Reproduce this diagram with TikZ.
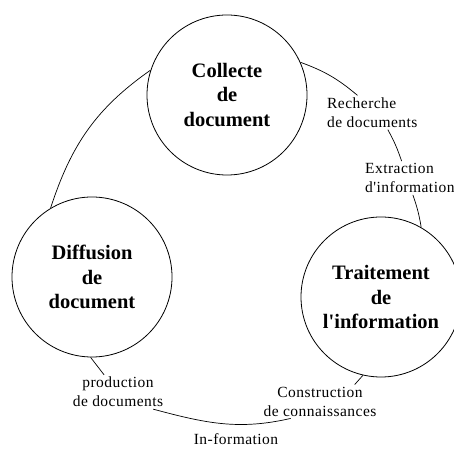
\documentclass[tikz,border=0pt]{standalone}
\usepackage{fontspec}
\setmainfont{Liberation Serif}[Ligatures=TeXOff]
\newfontfamily\labfont{Liberation Serif}[Ligatures=TeXOff,LetterSpace=3]
\begin{document}
\begin{tikzpicture}[x=1pt,y=1pt,
  stage/.style={circle,draw,line width=0.8pt,minimum size=160pt,inner sep=0pt,
    align=center,font=\fontsize{20.5}{24.5}\selectfont\bfseries},
  lab/.style={inner sep=2pt,font=\labfont\fontsize{15.5}{19}\selectfont},
  link/.style={line width=0.7pt}]
\useasboundingbox (0,0) rectangle (454,449);
\node[stage] (collecte) at (227,354) {Collecte\\de\\document};
\node[stage] (diffusion) at (92,172) {Diffusion\\de\\document};
\node[stage] (traitement) at (381,152) {Traitement\\de\\l'information};
\node[lab,align=left,anchor=west] (rech) at (325,336.5) {Recherche\\de documents};
\node[lab,align=left,anchor=west] (extr) at (363,271) {Extraction\\d'information};
\node[lab,align=center] (prod) at (118,57) {production\\de documents};
\node[lab,align=center] (constr) at (320,47.5) {Construction\\de connaissances};
\node[lab] (inform) at (236,9.5) {In-formation};
\draw[link] (collecte.162) to[out=215,in=72] (diffusion.121);
\draw[link] (collecte.24) to[bend left=10] (rech.131);
\draw[link] (rech.-48) to[bend left=5] (extr.116);
\draw[link] (extr.-80) to[bend left=5] (traitement.60);
\draw[link] (traitement.-103) -- (constr.26);
\draw[link] (constr.210) to[out=193,in=345] (prod.-26);
\draw[link] (diffusion.-91) -- (prod.129);
\end{tikzpicture}
\end{document}
